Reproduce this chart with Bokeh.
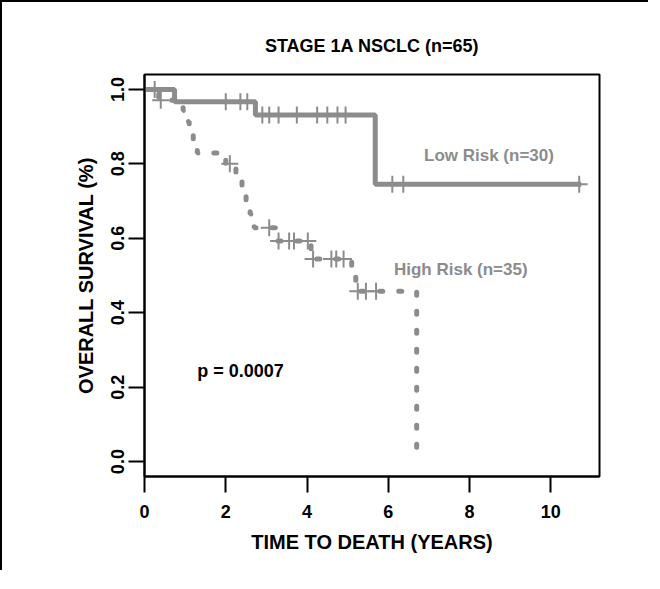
import numpy as np
from bokeh.plotting import figure
from bokeh.models import Range1d, FixedTicker, NumeralTickFormatter, Label
from bokeh.embed import file_html
from bokeh.resources import INLINE

# ---- data ----
title_text = "STAGE 1A NSCLC (n=65)"
x_ticks = [0, 2, 4, 6, 8, 10]
y_ticks = [0.0, 0.2, 0.4, 0.6, 0.8, 1.0]

low_event_times = [0.74, 2.73, 5.68]
low_event_surv = [0.967, 0.931, 0.745]
low_end_time = 10.75
low_censor_times = [0.25, 2.0, 2.36, 2.53, 2.9, 3.07, 3.3, 3.75, 4.25, 4.5,
                    4.75, 4.95, 6.1, 6.37, 10.7]

high_event_times = [0.35, 0.95, 1.0, 1.1, 1.2, 1.3, 2.0, 2.25, 2.4, 2.5, 2.6,
                    2.7, 3.27, 4.1, 5.1, 5.2, 6.7]
high_event_surv = [0.971, 0.943, 0.914, 0.886, 0.857, 0.829, 0.80, 0.77, 0.735,
                   0.70, 0.665, 0.628, 0.593, 0.544, 0.50, 0.458, 0.0]
high_censor_times = [0.4, 2.1, 3.07, 3.3, 3.56, 3.68, 4.02, 4.15, 4.6, 4.72,
                     4.9, 5.25, 5.45, 5.7]

low_label = "Low Risk (n=30)"
high_label = "High Risk (n=35)"
p_label = "p = 0.0007"

GRAY = "#8c8c8c"
FONT = "Liberation Sans"
X_MAX = 11.2
Y_MIN, Y_MAX = -0.04, 1.04


def surv_at(t, times, surv):
    idx = np.searchsorted(np.asarray(times), t, side="right") - 1
    return 1.0 if idx < 0 else surv[idx]


p = figure(width=648, height=570,
           x_range=Range1d(0, X_MAX), y_range=Range1d(Y_MIN, Y_MAX),
           output_backend="svg", toolbar_location=None,
           min_border_left=142, min_border_right=51,
           min_border_top=72, min_border_bottom=96,
           title=title_text)
p.styles = {"border-top": "2px solid black", "border-left": "2px solid black"}
p.background_fill_color = "white"
p.border_fill_color = "white"
p.grid.visible = False
p.outline_line_color = "black"
p.outline_line_width = 2

p.title.align = "center"
p.title.text_font = FONT
p.title.text_font_style = "bold"
p.title.text_font_size = "18px"
p.title.text_color = "black"
p.title.standoff = 38

for ax in (p.xaxis, p.yaxis):
    ax.axis_line_width = 2
    ax.major_tick_line_width = 2
    ax.major_tick_in = 0
    ax.major_tick_out = 16
    ax.minor_tick_line_color = None
    ax.major_label_text_font = FONT
    ax.major_label_text_font_style = "bold"
    ax.major_label_text_font_size = "18px"
    ax.major_label_text_color = "black"
    ax.axis_label_text_font = FONT
    ax.axis_label_text_font_style = "bold"
    ax.axis_label_text_font_size = "20px"
    ax.axis_label_text_color = "black"

p.xaxis.ticker = FixedTicker(ticks=x_ticks)
p.yaxis.ticker = FixedTicker(ticks=y_ticks)
p.yaxis.formatter = NumeralTickFormatter(format="0.0")
p.yaxis.major_label_orientation = "vertical"
p.xaxis.axis_label = "TIME TO DEATH (YEARS)"
p.yaxis.axis_label = "OVERALL SURVIVAL (%)"
p.xaxis.major_label_standoff = 12
p.xaxis.axis_label_standoff = 10
p.yaxis.major_label_standoff = 4
p.yaxis.axis_label_standoff = 12

# Low risk: solid step curve
lx = [0.0] + low_event_times + [low_end_time]
ly = [1.0] + low_event_surv + [low_event_surv[-1]]
p.step(lx, ly, mode="after", line_color=GRAY, line_width=5)

# High risk: dotted step curve
hx = [0.0] + high_event_times
hy = [1.0] + high_event_surv
p.step(hx, hy, mode="after", line_color=GRAY, line_width=5,
       line_dash="3 16", line_cap="round")

# censor marks
lcy = [surv_at(t, low_event_times, low_event_surv) for t in low_censor_times]
hcy = [surv_at(t, high_event_times, high_event_surv) for t in high_censor_times]
p.scatter(low_censor_times, lcy, marker="cross", size=17, line_color=GRAY, line_width=2)
p.scatter(high_censor_times, hcy, marker="cross", size=17, line_color=GRAY, line_width=2)

# texts
p.add_layout(Label(x=6.88, y=0.822, text=low_label, text_font=FONT,
                   text_font_style="bold", text_font_size="17px",
                   text_color=GRAY, text_baseline="middle", text_align="left"))
p.add_layout(Label(x=6.14, y=0.517, text=high_label, text_font=FONT,
                   text_font_style="bold", text_font_size="17px",
                   text_color=GRAY, text_baseline="middle", text_align="left"))
p.add_layout(Label(x=1.3, y=0.243, text=p_label, text_font=FONT,
                   text_font_style="bold", text_font_size="18px",
                   text_color="black", text_baseline="middle", text_align="left"))

open("out.html", "w").write(file_html(p, INLINE))
